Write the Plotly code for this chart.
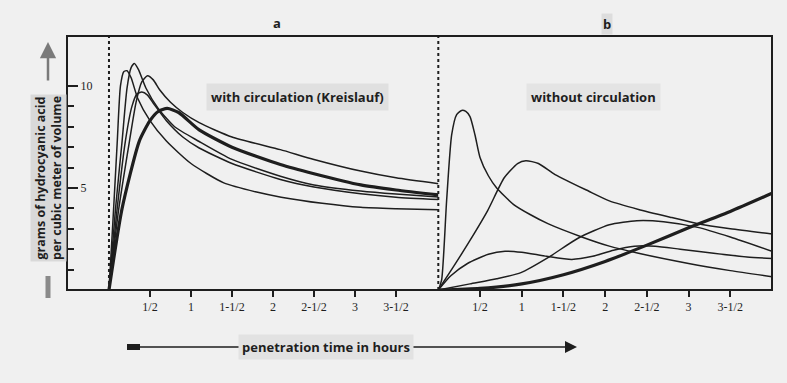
import plotly.graph_objects as go

# --- data (hours, grams HCN per m3) ---
tick_vals = [0.5, 1, 1.5, 2, 2.5, 3, 3.5]
tick_text = ["1/2", "1", "1-1/2", "2", "2-1/2", "3", "3-1/2"]
y_tick_vals = [5, 10]
y_tick_text = ["5", "10"]
y_minor_vals = [1, 2, 3, 4, 6, 7, 8, 9]

# a: with circulation
a1_t = [0, 0.05, 0.1, 0.14, 0.18, 0.22, 0.27, 0.35, 0.5, 0.7, 1.0, 1.4, 1.8, 2.1, 2.6, 3.07, 3.5, 4.02]
a1_y = [0, 3.5, 7.2, 10.0, 10.7, 10.75, 10.4, 9.4, 8.3, 7.3, 6.2, 5.25, 4.8, 4.55, 4.25, 4.05, 3.98, 3.93]
a2_t = [0, 0.08, 0.16, 0.22, 0.27, 0.31, 0.36, 0.45, 0.6, 0.8, 1.1, 1.5, 2.09, 2.5, 3.07, 3.5, 4.02]
a2_y = [0, 4.0, 7.3, 9.9, 10.9, 11.1, 10.8, 9.9, 8.9, 8.0, 7.28, 6.4, 5.58, 5.15, 4.85, 4.7, 4.56]
a3_t = [0, 0.1, 0.2, 0.28, 0.34, 0.4, 0.47, 0.55, 0.7, 0.9, 1.1, 1.5, 2.09, 2.5, 3.07, 3.5, 4.02]
a3_y = [0, 4.0, 7.3, 9.0, 9.6, 9.7, 9.55, 9.1, 8.3, 7.5, 6.96, 6.2, 5.42, 5.05, 4.72, 4.55, 4.43]
a4_t = [0, 0.12, 0.25, 0.33, 0.4, 0.47, 0.54, 0.62, 0.75, 0.9, 1.1, 1.5, 2.09, 2.5, 3.07, 3.5, 4.02]
a4_y = [0, 4.0, 7.3, 9.2, 10.2, 10.5, 10.3, 9.8, 9.2, 8.7, 8.2, 7.5, 6.88, 6.4, 5.83, 5.5, 5.21]
a5_t = [0, 0.16, 0.37, 0.5, 0.6, 0.71, 0.85, 1.1, 1.5, 2.09, 2.5, 3.07, 3.5, 4.02]
a5_y = [0, 4.0, 7.3, 8.3, 8.75, 8.9, 8.7, 7.85, 7.0, 6.15, 5.7, 5.15, 4.9, 4.66]

# b: without circulation
b1_t = [0, 0.04, 0.1, 0.16, 0.22, 0.28, 0.33, 0.38, 0.44, 0.5, 0.6, 0.7, 0.9, 1.1, 1.32, 1.72, 2.05, 2.4, 3.0, 3.5, 4.0]
b1_y = [0, 0.5, 4.4, 7.6, 8.6, 8.8, 8.75, 8.5, 7.6, 6.5, 5.6, 5.0, 4.2, 3.7, 3.24, 2.6, 2.15, 1.8, 1.3, 0.95, 0.65]
b2_t = [0, 0.18, 0.38, 0.59, 0.79, 0.95, 1.05, 1.2, 1.4, 1.8, 2.05, 2.4, 2.8, 3.11, 3.5, 4.0]
b2_y = [0, 1.13, 2.43, 3.88, 5.5, 6.2, 6.34, 6.2, 5.66, 4.85, 4.37, 3.95, 3.55, 3.25, 3.0, 2.75]
b3_t = [0, 0.15, 0.35, 0.6, 0.8, 1.0, 1.3, 1.6, 1.85, 2.1, 2.35, 2.6, 2.9, 3.3, 3.7, 4.0]
b3_y = [0, 0.7, 1.3, 1.75, 1.9, 1.85, 1.65, 1.5, 1.65, 1.95, 2.15, 2.15, 2.0, 1.8, 1.62, 1.54]
b4_t = [0, 0.38, 0.7, 0.99, 1.32, 1.68, 2.05, 2.38, 2.7, 3.11, 3.5, 4.0]
b4_y = [0, 0.3, 0.55, 0.85, 1.6, 2.55, 3.2, 3.4, 3.35, 3.07, 2.6, 1.9]
b5_t = [0, 0.5, 1.0, 1.5, 2.0, 2.5, 3.0, 3.5, 4.0]
b5_y = [0, 0.08, 0.3, 0.75, 1.4, 2.2, 3.05, 3.85, 4.74]

INK = "#1e1e1e"
BG = "#f0f0f0"
SPLIT = (438.3 - 67) / 705  # panel a / panel b boundary in paper coords
Y_RANGE = [0, 12.45]

fig = go.Figure()

def add_curve(t, y, axis, thick=False):
    fig.add_trace(go.Scatter(
        x=t, y=y, mode="lines", xaxis=axis, yaxis="y",
        line=dict(color=INK, width=3.2 if thick else 1.5, shape="spline", smoothing=0.6),
        showlegend=False, hoverinfo="skip",
    ))

for t, y in [(a1_t, a1_y), (a2_t, a2_y), (a3_t, a3_y), (a4_t, a4_y)]:
    add_curve(t, y, "x")
add_curve(a5_t, a5_y, "x", thick=True)

for t, y in [(b1_t, b1_y), (b2_t, b2_y), (b3_t, b3_y), (b4_t, b4_y)]:
    add_curve(t, y, "x2")
add_curve(b5_t, b5_y, "x2", thick=True)

# empty traces so the tick-only axes y2 / y3 get drawn
for ax in ["y2", "y3"]:
    fig.add_trace(go.Scatter(x=[None], y=[None], xaxis="x", yaxis=ax,
                             showlegend=False, hoverinfo="skip"))

tick_font = dict(family="Liberation Serif", size=12, color=INK)
xcommon = dict(
    tickvals=tick_vals, ticktext=tick_text, ticks="outside", ticklen=6,
    tickwidth=1.5, tickcolor=INK, tickfont=tick_font, showgrid=False,
    zeroline=False, showline=False, anchor="y", fixedrange=True,
)
# right-sided axes pinned to the left frame so their ticks point inward
ycommon = dict(
    range=Y_RANGE, overlaying="y", side="right", anchor="free", position=0,
    tickmode="array", ticks="outside", tickwidth=1.5, tickcolor=INK,
    tickfont=tick_font, showgrid=False, zeroline=False, showline=False,
)

fig.update_layout(
    width=787, height=383,
    margin=dict(l=67, r=15, t=36, b=93),
    paper_bgcolor=BG, plot_bgcolor=BG,
    xaxis=dict(domain=[0, SPLIT], range=[-0.512, 4.016], **xcommon),
    xaxis2=dict(domain=[SPLIT, 1], range=[0, 4.0], **xcommon),
    yaxis=dict(range=Y_RANGE, anchor="x", showticklabels=False, ticks="",
               showgrid=False, zeroline=False, showline=False),
    yaxis2=dict(tickvals=y_tick_vals, ticktext=y_tick_text, ticklen=10, **ycommon),
    yaxis3=dict(tickvals=y_minor_vals, ticklen=6, showticklabels=False, **ycommon),
)

# frame and dotted start lines
fig.add_shape(type="rect", xref="paper", yref="paper", x0=0, y0=0, x1=1, y1=1,
              line=dict(color=INK, width=2))
fig.add_shape(type="line", xref="x", yref="paper", x0=0, x1=0, y0=0, y1=1,
              line=dict(color=INK, width=2, dash="dot"))
fig.add_shape(type="line", xref="paper", yref="paper", x0=SPLIT, x1=SPLIT, y0=0, y1=1,
              line=dict(color=INK, width=2, dash="dot"))

def px_x(px):
    return (px - 67) / 705

def px_y(py):
    return (290 - py) / 254

def label(px, py, text, **kw):
    fig.add_annotation(x=px_x(px), y=px_y(py), xref="paper", yref="paper",
                       xanchor="center", yanchor="middle", text=text,
                       showarrow=False, **kw)

bold = dict(family="Open Sans", size=13, color=INK)

label(277, 23, "<b>a</b>", font=dict(family="Open Sans", size=13, color=INK))
label(607, 24, "<b>b</b>", font=dict(family="Open Sans", size=13, color=INK), bgcolor="#dddddd")
label(297, 97, "<b>with circulation (Kreislauf)</b>", font=bold, bgcolor="#e0e0e0", borderpad=4)
label(593, 97, "<b>without circulation</b>", font=bold, bgcolor="#e4e4e4", borderpad=4)

# y title with arrow
label(48, 178, "<b>grams of hydrocyanic acid<br>per cubic meter of volume</b>",
      textangle=-90, bgcolor="#d9d9d9",
      font=dict(family="Open Sans", size=12.5, color=INK))
fig.add_annotation(x=px_x(48), y=px_y(42), xref="paper", yref="paper", text="",
                   ax=0, ay=40, showarrow=True, arrowhead=2, arrowsize=1.3,
                   arrowwidth=2.5, arrowcolor="#7a7a7a")
fig.add_shape(type="line", xref="paper", yref="paper", x0=px_x(48), x1=px_x(48),
              y0=px_y(298), y1=px_y(276), line=dict(color="#8a8a8a", width=5))

# x title with arrow
fig.add_annotation(x=px_x(577), y=px_y(347), xref="paper", yref="paper", text="",
                   ax=-448, ay=0, showarrow=True, arrowhead=2, arrowsize=1.6,
                   arrowwidth=1.5, arrowcolor=INK)
fig.add_shape(type="line", xref="paper", yref="paper", x0=px_x(127), x1=px_x(140),
              y0=px_y(347), y1=px_y(347), line=dict(color=INK, width=6))
label(326, 347, "<b>penetration time in hours</b>", font=bold, bgcolor="#e2e2e2", borderpad=3)

fig.write_html("out.html", config={"displayModeBar": False},
               post_script="document.body.style.margin='0px';")
